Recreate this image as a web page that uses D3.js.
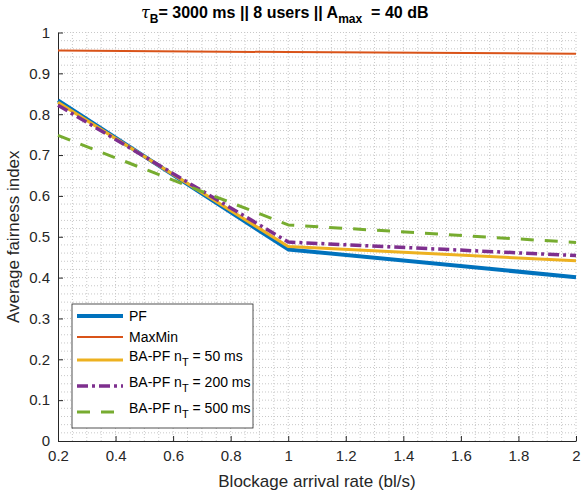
<!DOCTYPE html>
<html>
<head>
<meta charset="utf-8">
<script src="https://cdn.jsdelivr.net/npm/d3@7"></script>
<style>
  body { margin: 0; background: #fff; }
  svg { font-family: "Liberation Sans", Arial, sans-serif; }
  .tick text { fill: #262626; font-size: 15px; }
</style>
</head>
<body>
<div id="chart"></div>
<script>
// blockage arrival rate (bl/s)
const rates = [0.2, 1, 2];

// average fairness index per scheme
const pf = [0.834, 0.469, 0.401];
const maxMin = [0.956, 0.952, 0.948];
const baPf50 = [0.829, 0.476, 0.441];
const baPf200 = [0.822, 0.487, 0.454];
const baPf500 = [0.748, 0.529, 0.486];

const seriesNames = ['PF', 'MaxMin', 'BA-PF n_T = 50 ms', 'BA-PF n_T = 200 ms', 'BA-PF n_T = 500 ms'];

const xTicks = [0.2, 0.4, 0.6, 0.8, 1, 1.2, 1.4, 1.6, 1.8, 2];
const yTicks = [0, 0.1, 0.2, 0.3, 0.4, 0.5, 0.6, 0.7, 0.8, 0.9, 1];

const width = 582, height = 493;
const margin = { top: 32.5, right: 6, bottom: 52, left: 58 };

const svg = d3.select('#chart').append('svg')
    .attr('width', width)
    .attr('height', height);

const x = d3.scaleLinear().domain([0.2, 2]).range([margin.left, width - margin.right]);
const y = d3.scaleLinear().domain([0, 1]).range([height - margin.bottom, margin.top]);

// minor dotted grid
const grid = svg.append('g').attr('class', 'grid');
grid.selectAll('line.vx')
    .data(d3.range(0.25, 2.001, 0.05))
    .enter().append('line')
    .attr('x1', d => x(d)).attr('x2', d => x(d))
    .attr('y1', y(0)).attr('y2', y(1))
    .attr('stroke', '#c8c8c8').attr('stroke-width', 1)
    .attr('stroke-dasharray', '1,2');
grid.selectAll('line.hy')
    .data(d3.range(0.02, 1.001, 0.02))
    .enter().append('line')
    .attr('x1', x(0.2)).attr('x2', x(2))
    .attr('y1', d => y(d)).attr('y2', d => y(d))
    .attr('stroke', '#c8c8c8').attr('stroke-width', 1)
    .attr('stroke-dasharray', '1,2');

// axes (MATLAB style: ticks inward, box off)
const xAxis = svg.append('g')
    .attr('transform', `translate(0,${y(0)})`)
    .call(d3.axisBottom(x).tickValues(xTicks).tickFormat(d3.format('~g'))
        .tickSizeInner(-5).tickSizeOuter(0).tickPadding(12));
const yAxis = svg.append('g')
    .attr('transform', `translate(${x(0.2)},0)`)
    .call(d3.axisLeft(y).tickValues(yTicks).tickFormat(d3.format('~g'))
        .tickSizeInner(-5).tickSizeOuter(0).tickPadding(8));
[xAxis, yAxis].forEach(a => {
    a.select('.domain').attr('stroke', '#262626').attr('stroke-width', 1);
    a.selectAll('.tick line').attr('stroke', '#262626');
});
xAxis.selectAll('.tick text').attr('dy', '0.5em');

// series
const series = [
    { name: seriesNames[0], values: pf, color: '#0072BD', width: 4, dash: null },
    { name: seriesNames[1], values: maxMin, color: '#D95319', width: 2, dash: null },
    { name: seriesNames[2], values: baPf50, color: '#EDB120', width: 3, dash: null },
    { name: seriesNames[3], values: baPf200, color: '#7E2F8E', width: 3.5, dash: '11,4,3,4' },
    { name: seriesNames[4], values: baPf500, color: '#77AC30', width: 3, dash: '13,11' }
];

const line = d3.line()
    .x((d, i) => x(rates[i]))
    .y(d => y(d));

svg.append('g').selectAll('path')
    .data(series)
    .enter().append('path')
    .attr('d', d => line(d.values))
    .attr('fill', 'none')
    .attr('stroke', d => d.color)
    .attr('stroke-width', d => d.width)
    .attr('stroke-dasharray', d => d.dash)
    .attr('stroke-linejoin', 'round');

// title
const title = svg.append('text')
    .attr('x', 141).attr('y', 18)
    .attr('text-anchor', 'start')
    .attr('font-size', 16).attr('font-weight', 'bold')
    .attr('fill', '#000');
title.append('tspan').attr('font-style', 'italic').attr('font-family', 'DejaVu Serif, serif').attr('font-weight', 'normal').text('τ');
title.append('tspan').attr('dy', 5).attr('font-size', 12).text('B');
title.append('tspan').attr('dy', -5).text('= 3000 ms || 8 users || A');
title.append('tspan').attr('dy', 5).attr('font-size', 12).text('max');
title.append('tspan').attr('dy', -5).text('\u00a0\u00a0= 40 dB');

// axis labels
svg.append('text')
    .attr('x', x(1.1)).attr('y', 487)
    .attr('text-anchor', 'middle')
    .attr('font-size', 17).attr('fill', '#262626')
    .text('Blockage arrival rate (bl/s)');
svg.append('text')
    .attr('transform', `translate(19,${y(0.5)}) rotate(-90)`)
    .attr('text-anchor', 'middle')
    .attr('font-size', 17).attr('fill', '#262626')
    .text('Average fairness index');

// legend
const legend = svg.append('g').attr('transform', 'translate(72,304)');
legend.append('rect')
    .attr('width', 181).attr('height', 124)
    .attr('fill', '#fff').attr('stroke', '#262626').attr('stroke-width', 0.8);
const rowY = [12, 33, 56, 82, 108];
series.forEach((s, i) => {
    const g = legend.append('g').attr('transform', `translate(0,${rowY[i]})`);
    g.append('line')
        .attr('x1', 5).attr('x2', 51)
        .attr('stroke', s.color)
        .attr('stroke-width', s.width)
        .attr('stroke-dasharray', s.dash);
    const t = g.append('text')
        .attr('x', 57).attr('dy', '0.35em')
        .attr('font-size', 14).attr('fill', '#000');
    const parts = s.name.split('n_T');
    if (parts.length === 1) {
        t.text(s.name);
    } else {
        t.attr('dy', '0.1em');
        t.append('tspan').text(parts[0] + 'n');
        t.append('tspan').attr('dy', 5).attr('font-size', 11).text('T');
        t.append('tspan').attr('dy', -5).text(parts[1]);
    }
});
</script>
</body>
</html>
